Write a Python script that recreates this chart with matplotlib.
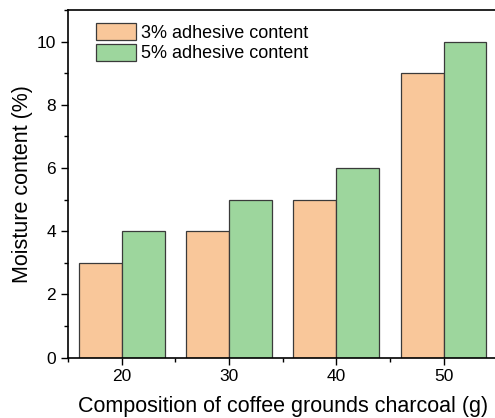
import numpy as np
import matplotlib.pyplot as plt
from matplotlib.ticker import MultipleLocator

plt.rcParams['font.family'] = ['Liberation Sans', 'DejaVu Sans']

# data
composition = [20, 30, 40, 50]
moisture_3 = [3, 4, 5, 9]
moisture_5 = [4, 5, 6, 10]

fig = plt.figure(figsize=(4.95, 4.18), dpi=100)
ax = fig.add_axes([0.1374, 0.1443, 0.867, 0.832])

x = np.array(composition)
ax.bar(x - 2, moisture_3, width=4, color='#F9C79A', edgecolor='#3a3a3a',
       linewidth=0.9, label='3% adhesive content')
ax.bar(x + 2, moisture_5, width=4, color='#9DD69D', edgecolor='#3a3a3a',
       linewidth=0.9, label='5% adhesive content')

ax.set_xlim(15, 55)
ax.set_ylim(0, 11)
ax.set_xticks(composition)
ax.xaxis.set_minor_locator(MultipleLocator(5))
ax.yaxis.set_major_locator(MultipleLocator(2))
ax.yaxis.set_minor_locator(MultipleLocator(1))
ax.tick_params(which='major', direction='out', length=5, width=1, labelsize=12.5)
ax.tick_params(which='minor', direction='out', length=3, width=1)
for s in ax.spines.values():
    s.set_linewidth(1.2)

ax.set_xlabel('Composition of coffee grounds charcoal (g)', fontsize=15.5, labelpad=8)
ax.set_ylabel('Moisture content (%)', fontsize=15.5, labelpad=3)

ax.legend(loc='upper left', bbox_to_anchor=(0.065, 0.962), frameon=False,
          fontsize=13, handlelength=2.2, handleheight=1.05, handletextpad=0.3,
          labelspacing=0.12, borderaxespad=0, borderpad=0)

fig.savefig('out.png', dpi=100)
